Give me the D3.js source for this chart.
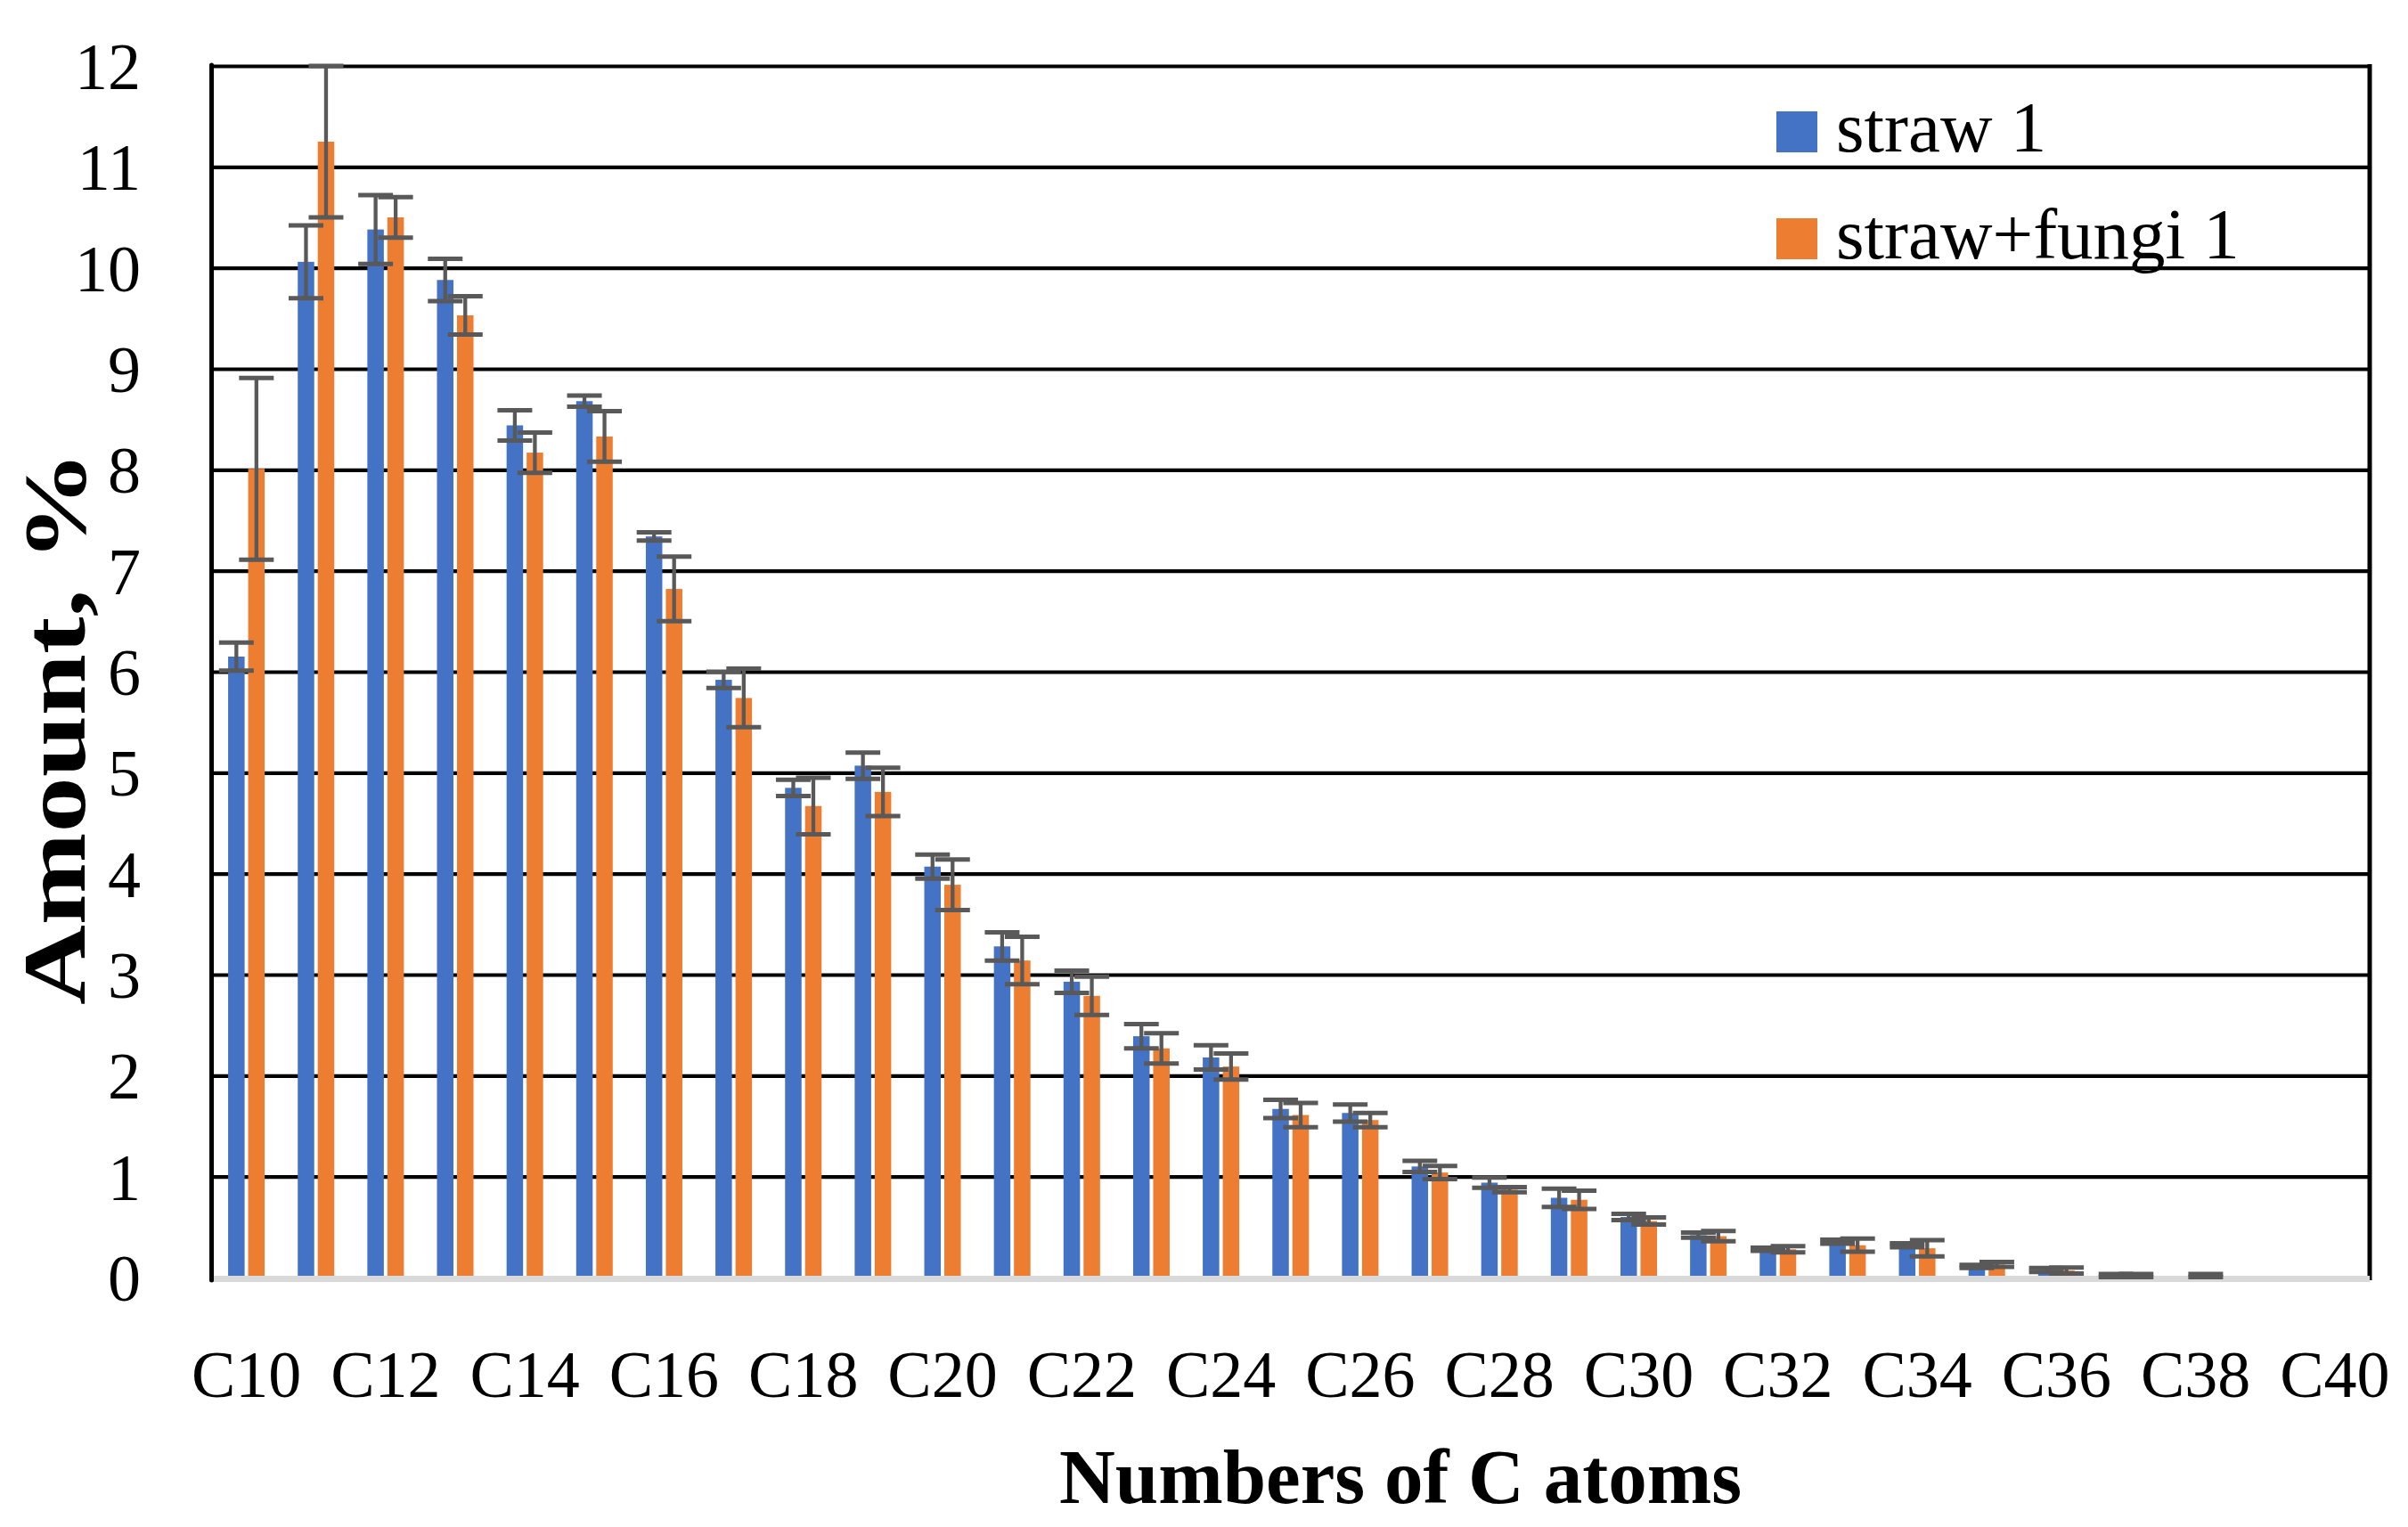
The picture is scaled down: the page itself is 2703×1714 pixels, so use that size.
<!DOCTYPE html>
<html>
<head>
<meta charset="utf-8">
<script src="https://cdn.jsdelivr.net/npm/d3@7"></script>
<style>
  html, body { margin: 0; padding: 0; background: #fff; }
  svg { display: block; }
</style>
</head>
<body>
<svg id="chart" width="2703" height="1714"></svg>
<script>
// ---- data ----
const categories = ["C10","C11","C12","C13","C14","C15","C16","C17","C18","C19","C20","C21","C22","C23","C24","C25","C26","C27","C28","C29","C30","C31","C32","C33","C34","C35","C36","C37","C38","C39","C40"];
const seriesNames = ["straw 1", "straw+fungi 1"];
const straw1 = [6.15,10.06,10.38,9.88,8.44,8.68,7.34,5.92,4.85,5.07,4.07,3.28,2.93,2.39,2.18,1.67,1.63,1.10,0.94,0.79,0.60,0.42,0.28,0.355,0.32,0.11,0.075,0.02,0,0,0];
const straw1Err = [0.14,0.36,0.34,0.21,0.15,0.055,0.04,0.08,0.08,0.13,0.12,0.14,0.11,0.12,0.12,0.09,0.085,0.055,0.05,0.09,0.03,0.025,0.015,0.02,0.02,0.015,0.02,0.015,0,0,0];
const fungi1 = [8.01,11.25,10.50,9.53,8.17,8.33,6.82,5.74,4.67,4.81,3.89,3.14,2.79,2.27,2.09,1.61,1.56,1.04,0.87,0.77,0.56,0.41,0.28,0.32,0.29,0.13,0.07,0.02,0.02,0,0];
const fungi1Err = [0.9,0.75,0.2,0.19,0.2,0.25,0.32,0.29,0.28,0.24,0.25,0.235,0.19,0.15,0.13,0.12,0.07,0.065,0.025,0.09,0.035,0.05,0.03,0.065,0.08,0.025,0.03,0.015,0.015,0,0];
const yTicks = [0,1,2,3,4,5,6,7,8,9,10,11,12];
const xTickLabels = ["C10","C12","C14","C16","C18","C20","C22","C24","C26","C28","C30","C32","C34","C36","C38","C40"];
const colors = ["#4472C4", "#ED7D31"];

// ---- layout ----
const L = 237.5, R = 2660, T = 74, B = 1434;
const svg = d3.select("#chart");
const x = d3.scaleBand().domain(categories).range([L, R]).padding(0);
const y = d3.scaleLinear().domain([0, 12]).range([B, T]);
const barW = 18.5, innerGap = 4;
const FONT = "'Liberation Serif', 'Times New Roman', serif";

// gridlines (behind bars)
const yAxisGrid = d3.axisLeft(y).tickValues(yTicks.filter(d => d > 0)).tickSize(-(R - L)).tickFormat("");
const g = svg.append("g").attr("transform", `translate(${L},0)`).call(yAxisGrid);
g.select(".domain").remove();
g.selectAll(".tick line").attr("stroke", "#000").attr("stroke-width", 4.2);

// right border
svg.append("line").attr("x1", R).attr("x2", R).attr("y1", y(12) - 2).attr("y2", B + 3)
  .attr("stroke", "#000").attr("stroke-width", 5);

// bars
const series = [
  { name: seriesNames[0], values: straw1, errs: straw1Err, dx: -innerGap / 2 - barW },
  { name: seriesNames[1], values: fungi1, errs: fungi1Err, dx: innerGap / 2 }
];
series.forEach((s, si) => {
  const cx = c => x(c) + x.bandwidth() / 2;
  svg.append("g").selectAll("rect").data(categories.map((c, i) => ({ c, v: s.values[i] })))
    .join("rect")
    .attr("x", d => cx(d.c) + s.dx)
    .attr("width", barW)
    .attr("y", d => y(d.v))
    .attr("height", d => y(0) - y(d.v))
    .attr("fill", colors[si]);
});

// baseline (light gray)
svg.append("line").attr("x1", L).attr("x2", R).attr("y1", B + 1.5).attr("y2", B + 1.5)
  .attr("stroke", "#d9d9d9").attr("stroke-width", 7);

// left axis line
svg.append("line").attr("x1", L).attr("x2", L).attr("y1", T - 1).attr("y2", B + 3)
  .attr("stroke", "#000").attr("stroke-width", 5).attr("stroke-linecap", "round");

// error bars
series.forEach((s, si) => {
  const eg = svg.append("g").attr("stroke", "#595959");
  categories.forEach((c, i) => {
    const v = s.values[i], e = s.errs[i];
    if (v === 0 && e === 0) return;
    const bx = x(c) + x.bandwidth() / 2 + s.dx + barW / 2;
    const yt = y(v + e), yb = y(Math.max(v - e, 0));
    eg.append("line").attr("x1", bx).attr("x2", bx).attr("y1", yt).attr("y2", yb).attr("stroke-width", 4.3);
    [yt, yb].forEach(yy => eg.append("line").attr("x1", bx - 19.5).attr("x2", bx + 19.5)
      .attr("y1", yy).attr("y2", yy).attr("stroke-width", 5));
  });
});

// y tick labels
svg.append("g").selectAll("text").data(yTicks).join("text")
  .attr("x", 158).attr("y", d => y(d)).attr("dy", "0.35em")
  .attr("text-anchor", "end").attr("font-family", FONT).attr("font-size", 74)
  .attr("fill", "#000").text(d => d);

// x tick labels
svg.append("g").selectAll("text").data(xTickLabels).join("text")
  .attr("x", d => x(d) + x.bandwidth() / 2).attr("y", 1568)
  .attr("text-anchor", "middle").attr("font-family", FONT).attr("font-size", 74)
  .attr("fill", "#000").text(d => d);

// axis titles
svg.append("text").attr("x", 1572).attr("y", 1687).attr("text-anchor", "middle")
  .attr("font-family", FONT).attr("font-weight", "bold").attr("font-size", 87)
  .text("Numbers of C atoms");
svg.append("text").attr("transform", "translate(95,817) rotate(-90)").attr("text-anchor", "middle")
  .attr("font-family", FONT).attr("font-weight", "bold").attr("font-size", 100)
  .attr("textLength", 622).attr("lengthAdjust", "spacingAndGlyphs")
  .text("Amount, %");

// legend
const lg = svg.append("g");
seriesNames.forEach((n, i) => {
  const ly = 170 + i * 120;
  lg.append("rect").attr("x", 1994).attr("y", ly - 45).attr("width", 46).attr("height", 46).attr("fill", colors[i]);
  lg.append("text").attr("x", 2061).attr("y", ly).attr("font-family", FONT).attr("font-size", 81)
    .attr("fill", "#000").text(n);
});
</script>
</body>
</html>
